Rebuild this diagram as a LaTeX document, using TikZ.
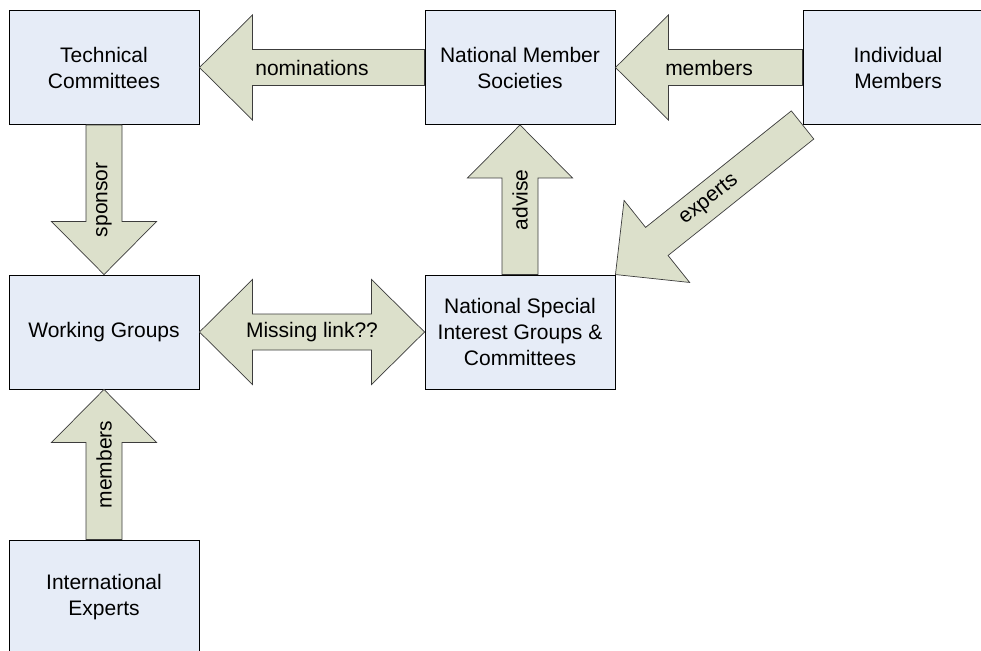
\documentclass[tikz,border=0pt]{standalone}
\usepackage{fontspec}
\setmainfont{Liberation Sans}
\usetikzlibrary{calc}
\definecolor{boxfill}{RGB}{230,236,247}
\definecolor{arrfill}{RGB}{220,224,203}
\definecolor{arrline}{RGB}{60,60,60}
\tikzset{
  unit/.style={draw=black, line width=0.9pt, fill=boxfill, minimum width=190pt, minimum height=114pt, inner sep=0pt, align=center, font=\fontsize{21}{26}\selectfont},
  fat/.style={draw=arrline, line width=0.7pt, fill=arrfill, line join=miter},
  lbl/.style={font=\fontsize{21}{26}\selectfont, inner sep=0pt}
}
% single fat arrow from #1 to #2
\newcommand\fatone[2]{%
  \draw[fat] ($(#1)!18pt!90:(#2)$)
    -- ($($(#2)!53pt!(#1)$)!18pt!-90:(#1)$)
    -- ($($(#2)!53pt!(#1)$)!52.5pt!-90:(#1)$)
    -- (#2)
    -- ($($(#2)!53pt!(#1)$)!52.5pt!90:(#1)$)
    -- ($($(#2)!53pt!(#1)$)!18pt!90:(#1)$)
    -- ($(#1)!18pt!-90:(#2)$) -- cycle;}
% double fat arrow between #1 and #2
\newcommand\fattwo[2]{%
  \draw[fat] (#1)
    -- ($($(#1)!53pt!(#2)$)!52.5pt!90:(#2)$)
    -- ($($(#1)!53pt!(#2)$)!18pt!90:(#2)$)
    -- ($($(#2)!53pt!(#1)$)!18pt!-90:(#1)$)
    -- ($($(#2)!53pt!(#1)$)!52.5pt!-90:(#1)$)
    -- (#2)
    -- ($($(#2)!53pt!(#1)$)!52.5pt!90:(#1)$)
    -- ($($(#2)!53pt!(#1)$)!18pt!90:(#1)$)
    -- ($($(#1)!53pt!(#2)$)!18pt!-90:(#2)$)
    -- ($($(#1)!53pt!(#2)$)!52.5pt!-90:(#2)$)
    -- cycle;}
\begin{document}
\begin{tikzpicture}[x=1pt,y=-1pt]
\useasboundingbox (0,0) rectangle (981,650);
\begin{scope}
\clip (0,0) rectangle (981,650);
\node[unit] (TC) at (104,67.5) {Technical\\Committees};
\node[unit] (NMS) at (520,67.5) {National Member\\Societies};
\node[unit] (IM) at (898,67.5) {Individual\\Members};
\node[unit] (WG) at (104,332) {Working Groups};
\node[unit] (NSIG) at (520,332) {National Special\\Interest Groups \&\\Committees};
\node[unit] (IE) at (104,597) {International\\Experts};

\fatone{NMS.west}{TC.east}
\fatone{IM.west}{NMS.east}
\fatone{TC.south}{WG.north}
\fatone{NSIG.north}{NMS.south}
\fatone{IE.north}{WG.south}
\fatone{IM.south west}{NSIG.north east}
\fattwo{WG.east}{NSIG.west}

\node[lbl] (lnom) at ($(NMS.west)!0.5!(TC.east)$) {nominations};
\node[lbl] (lmem) at ($(IM.west)!0.5!(NMS.east)$) {members};
\node[lbl, rotate=90] (lspo) at ($(TC.south)!0.5!(WG.north)$) {sponsor};
\node[lbl, rotate=90] (ladv) at ($(NSIG.north)!0.5!(NMS.south)$) {advise};
\node[lbl, rotate=90] (lmem2) at ($(IE.north)!0.5!(WG.south)$) {members};
\node[lbl] (lmis) at ($(WG.east)!0.5!(NSIG.west)$) {Missing link??};
\path (NSIG.north east) -- node[lbl, sloped] (lexp) {experts} (IM.south west);
\end{scope}
\end{tikzpicture}
\end{document}
